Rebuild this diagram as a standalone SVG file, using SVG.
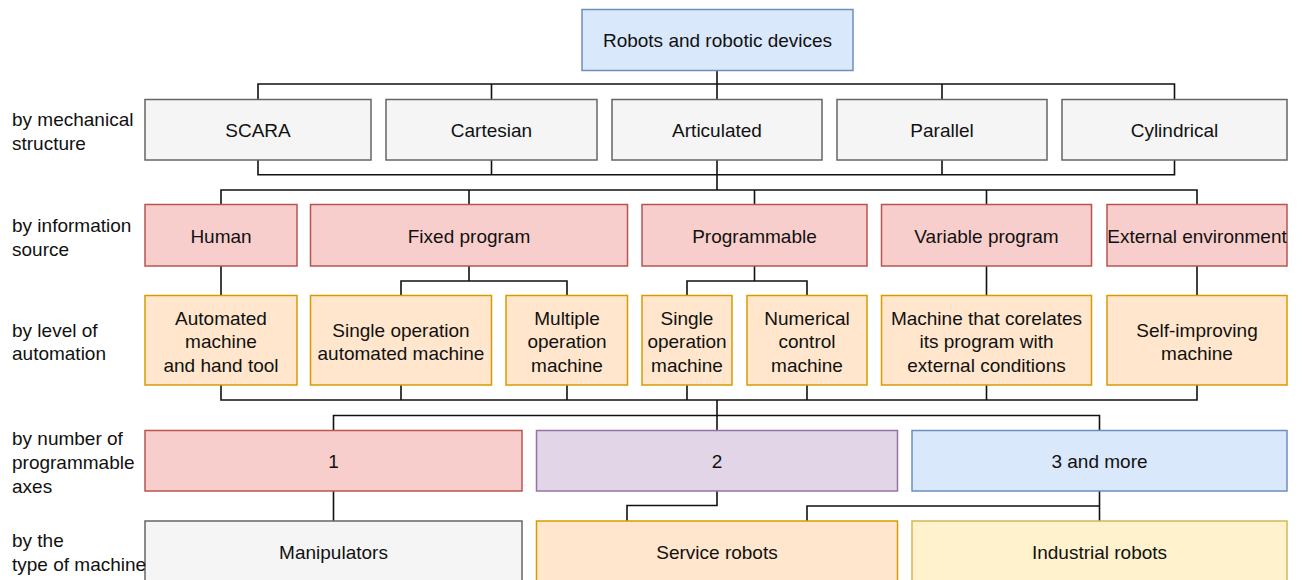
<svg xmlns="http://www.w3.org/2000/svg" width="1303" height="580" viewBox="0 0 1303 580">
  <style>
    text { font-family: "Liberation Sans", Arial, sans-serif; font-size: 19px; fill: #111; }
    .c { text-anchor: middle; }
    .lbl { text-anchor: start; }
    rect { stroke-width: 1.5; }
    .blue { fill: #dae8fc; stroke: #6c8ebf; }
    .gray { fill: #f5f5f5; stroke: #666666; }
    .red { fill: #f8cecc; stroke: #b85450; }
    .orange { fill: #ffe6cc; stroke: #d79b00; }
    .purple { fill: #e1d5e7; stroke: #9673a6; }
    .yellow { fill: #fff2cc; stroke: #d6b656; }
    .wire { fill: none; stroke: #111; stroke-width: 1.6; }
  </style>
  <rect width="1303" height="580" fill="#ffffff"/>

  <!-- connectors -->
  <g id="connectors" class="wire">
    <path d="M717 70.5V99.5 M258 99.5V84H1174.5V99.5 M491.5 84V99.5 M942 84V99.5"/>
    <path d="M258 160V174.7H1174.5V160 M491.5 160V174.7 M942 160V174.7 M717 160V190"/>
    <path d="M221 204.5V190H1197V204.5 M469 190V204.5 M754.5 190V204.5 M986.5 190V204.5"/>
    <path d="M221 266V295.5 M469 266V281 M401 295.5V281H567V295.5 M754.5 266V281 M687 295.5V281H807V295.5 M986.5 266V295.5 M1197 266V295.5"/>
    <path d="M221 385V400H1197V385 M401 385V400 M567 385V400 M687 385V400 M807 385V400 M986.5 385V400 M717 400V430.5"/>
    <path d="M333.5 430.5V415.5H1099.5V430.5"/>
    <path d="M333.5 491V521 M717 491V505.5H627V521 M1099.5 491V521 M1099.5 506H807V521"/>
  </g>

  <!-- row labels -->
  <g id="row-labels">
    <text class="lbl" x="12" y="125.5">by mechanical</text>
    <text class="lbl" x="12" y="149.5">structure</text>
    <text class="lbl" x="12" y="231.5">by information</text>
    <text class="lbl" x="12" y="255.5">source</text>
    <text class="lbl" x="12" y="336.5">by level of</text>
    <text class="lbl" x="12" y="359.5">automation</text>
    <text class="lbl" x="12" y="444.5">by number of</text>
    <text class="lbl" x="12" y="468.5">programmable</text>
    <text class="lbl" x="12" y="492.5">axes</text>
  </g>

  <!-- root -->
  <g id="root">
    <rect class="blue" x="582" y="9.5" width="271" height="61"/>
    <text class="c" x="717.5" y="46.5">Robots and robotic devices</text>
  </g>

  <!-- by mechanical structure -->
  <g id="scara"><rect class="gray" x="145" y="99.5" width="226" height="60.5"/><text class="c" x="258" y="136.5">SCARA</text></g>
  <g id="cartesian"><rect class="gray" x="386" y="99.5" width="211" height="60.5"/><text class="c" x="491.5" y="136.5">Cartesian</text></g>
  <g id="articulated"><rect class="gray" x="612" y="99.5" width="210" height="60.5"/><text class="c" x="717" y="136.5">Articulated</text></g>
  <g id="parallel"><rect class="gray" x="837" y="99.5" width="210" height="60.5"/><text class="c" x="942" y="136.5">Parallel</text></g>
  <g id="cylindrical"><rect class="gray" x="1062" y="99.5" width="225" height="60.5"/><text class="c" x="1174.5" y="136.5">Cylindrical</text></g>

  <!-- by information source -->
  <g id="human"><rect class="red" x="145" y="204.5" width="152" height="61.5"/><text class="c" x="221" y="243">Human</text></g>
  <g id="fixed-program"><rect class="red" x="310.5" y="204.5" width="317" height="61.5"/><text class="c" x="469" y="243">Fixed program</text></g>
  <g id="programmable"><rect class="red" x="642" y="204.5" width="225" height="61.5"/><text class="c" x="754.5" y="243">Programmable</text></g>
  <g id="variable-program"><rect class="red" x="881.5" y="204.5" width="210" height="61.5"/><text class="c" x="986.5" y="243">Variable program</text></g>
  <g id="external-environment"><rect class="red" x="1107" y="204.5" width="180" height="61.5"/><text class="c" x="1197" y="243">External environment</text></g>

  <!-- by level of automation -->
  <g id="automated-hand-tool">
    <rect class="orange" x="145" y="295.5" width="152" height="89.5"/>
    <text class="c" x="221" y="324.5">Automated</text>
    <text class="c" x="221" y="348">machine</text>
    <text class="c" x="221" y="371.5">and hand tool</text>
  </g>
  <g id="single-op-automated">
    <rect class="orange" x="310.5" y="295.5" width="181" height="89.5"/>
    <text class="c" x="401" y="336.5">Single operation</text>
    <text class="c" x="401" y="360">automated machine</text>
  </g>
  <g id="multiple-op">
    <rect class="orange" x="506" y="295.5" width="121.5" height="89.5"/>
    <text class="c" x="567" y="324.5">Multiple</text>
    <text class="c" x="567" y="348">operation</text>
    <text class="c" x="567" y="371.5">machine</text>
  </g>
  <g id="single-op-machine">
    <rect class="orange" x="642" y="295.5" width="90" height="89.5"/>
    <text class="c" x="687" y="324.5">Single</text>
    <text class="c" x="687" y="348">operation</text>
    <text class="c" x="687" y="371.5">machine</text>
  </g>
  <g id="numerical-control">
    <rect class="orange" x="747" y="295.5" width="120" height="89.5"/>
    <text class="c" x="807" y="324.5">Numerical</text>
    <text class="c" x="807" y="348">control</text>
    <text class="c" x="807" y="371.5">machine</text>
  </g>
  <g id="corelating-machine">
    <rect class="orange" x="881.5" y="295.5" width="210" height="89.5"/>
    <text class="c" x="986.5" y="324.5">Machine that corelates</text>
    <text class="c" x="986.5" y="348">its program with</text>
    <text class="c" x="986.5" y="371.5">external conditions</text>
  </g>
  <g id="self-improving">
    <rect class="orange" x="1107" y="295.5" width="180" height="89.5"/>
    <text class="c" x="1197" y="336.5">Self-improving</text>
    <text class="c" x="1197" y="360">machine</text>
  </g>

  <!-- by number of programmable axes -->
  <g id="axes-1"><rect class="red" x="145" y="430.5" width="377" height="60.5"/><text class="c" x="333.5" y="467.5">1</text></g>
  <g id="axes-2"><rect class="purple" x="536.5" y="430.5" width="361" height="60.5"/><text class="c" x="717" y="467.5">2</text></g>
  <g id="axes-3"><rect class="blue" x="912" y="430.5" width="375" height="60.5"/><text class="c" x="1099.5" y="467.5">3 and more</text></g>

  <!-- by the type of machine -->
  <g id="manipulators"><rect class="gray" x="145" y="521" width="377" height="80"/><text class="c" x="333.5" y="558.5">Manipulators</text></g>
  <g id="service-robots"><rect class="orange" x="536.5" y="521" width="361" height="80"/><text class="c" x="717" y="558.5">Service robots</text></g>
  <g id="industrial-robots"><rect class="yellow" x="912" y="521" width="375" height="80"/><text class="c" x="1099.5" y="558.5">Industrial robots</text></g>

  <g id="row-labels-bottom">
    <text class="lbl" x="12" y="547">by the</text>
    <text class="lbl" x="12" y="571">type of machine</text>
  </g>
</svg>
